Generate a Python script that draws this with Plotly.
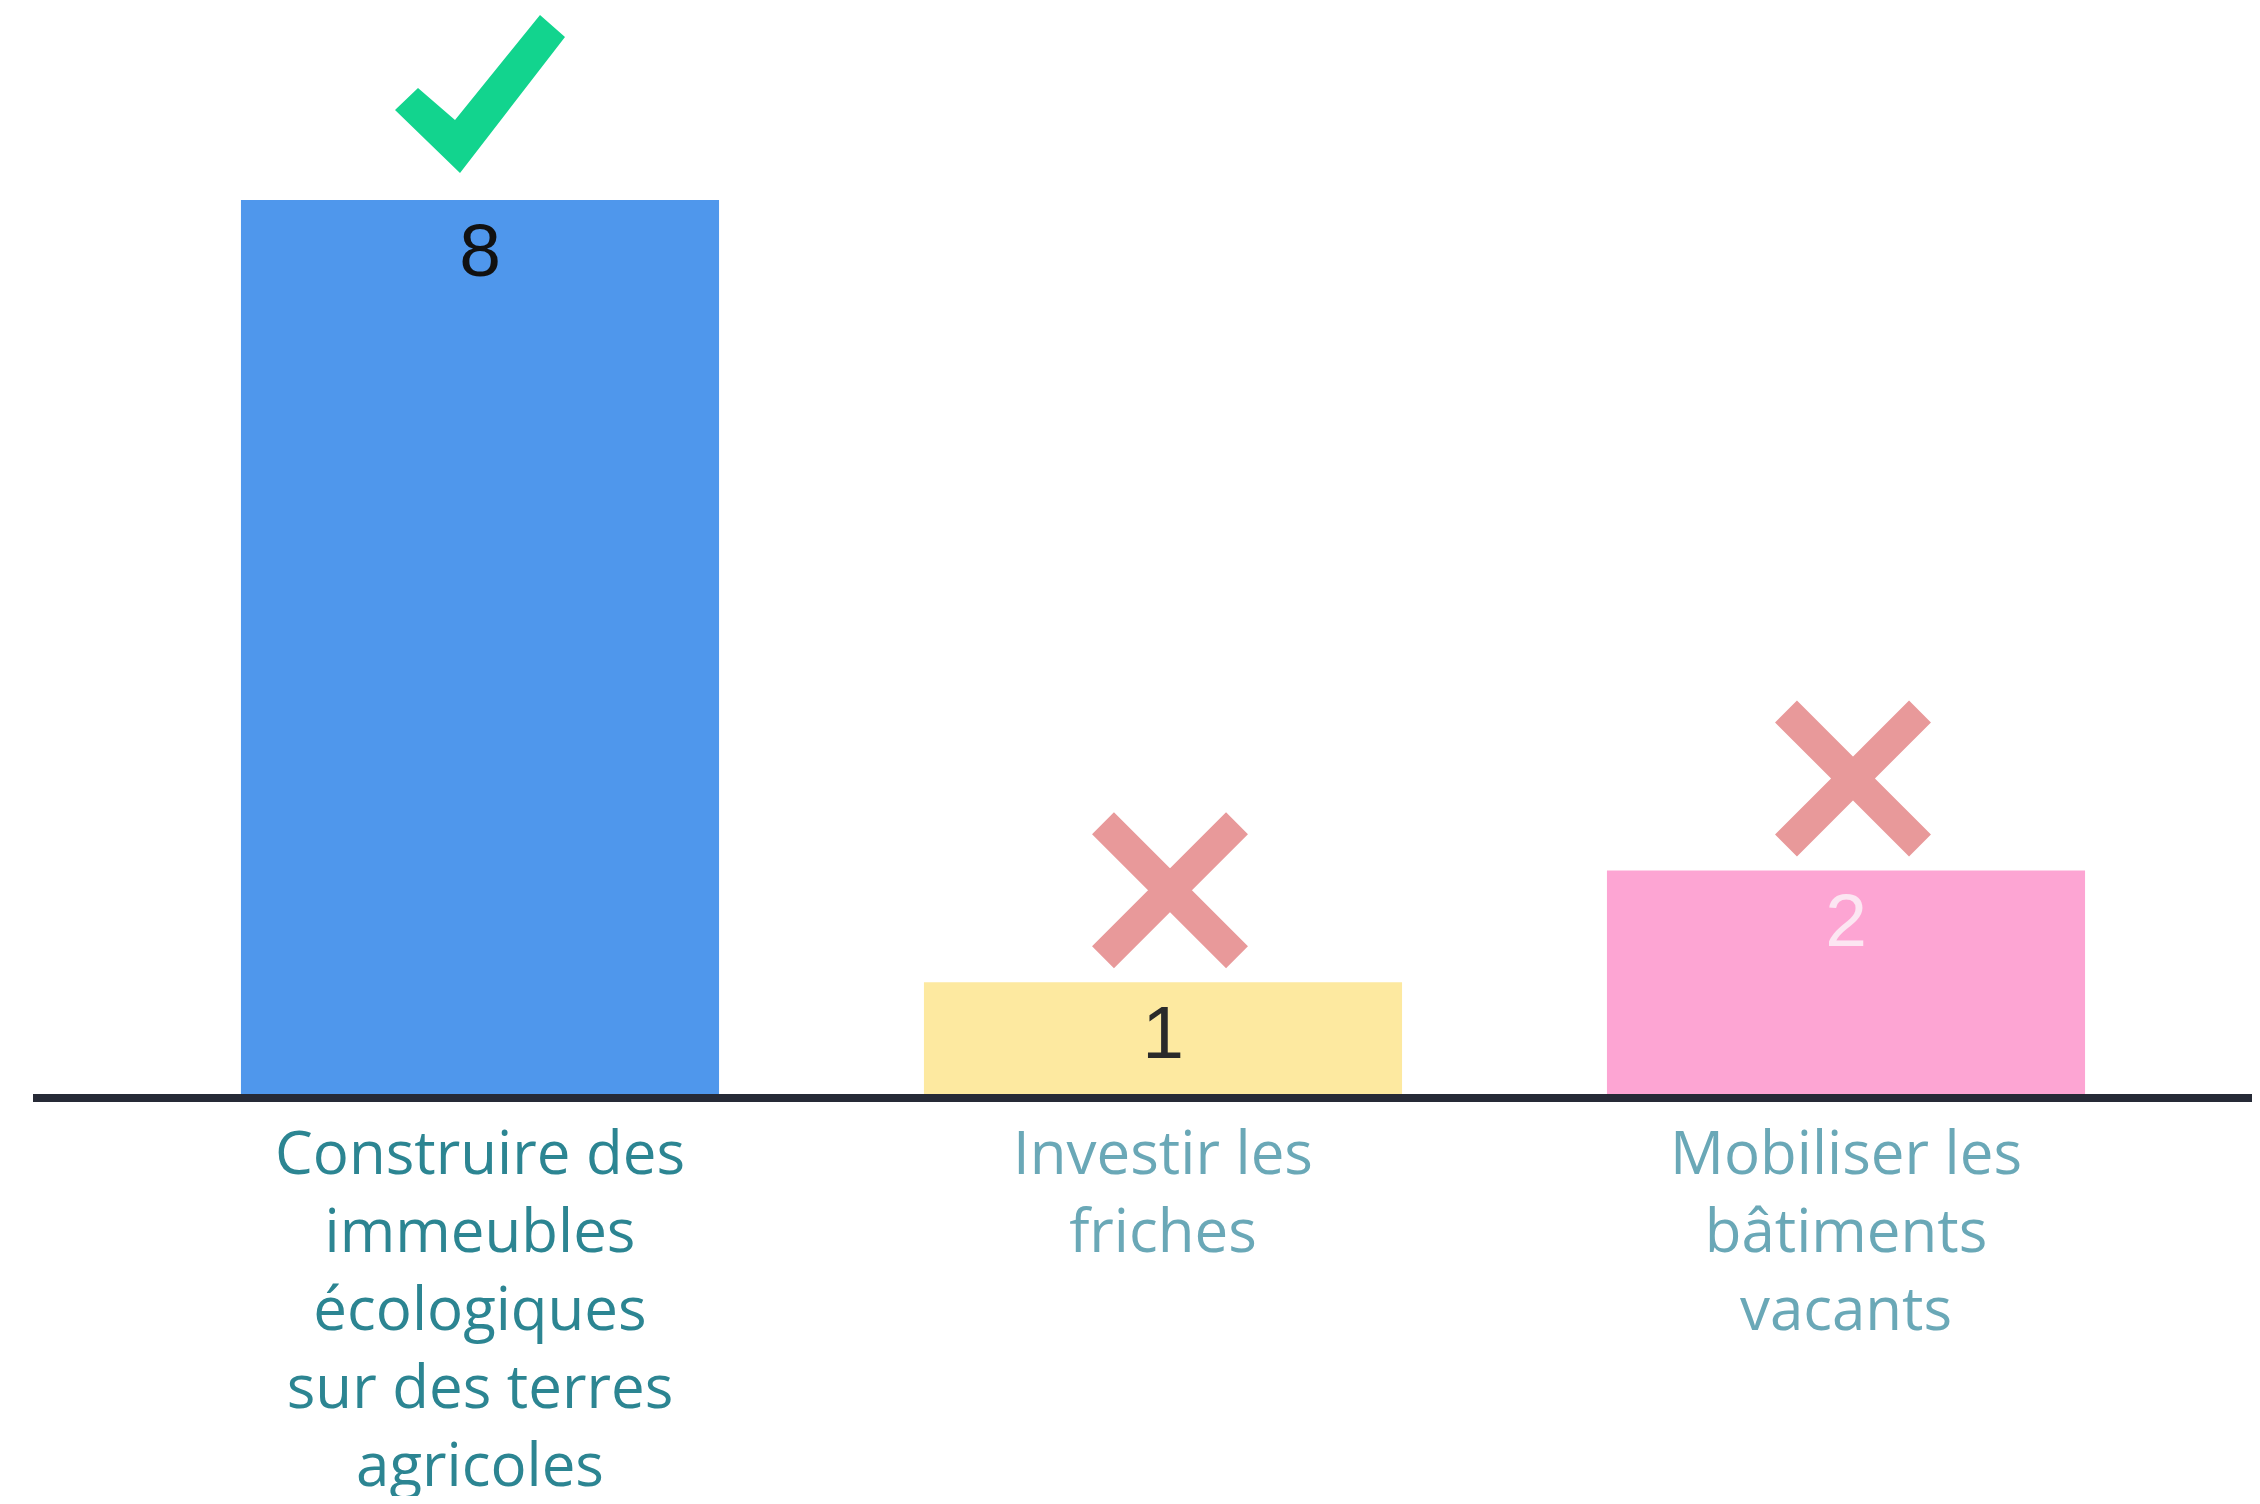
"""
Bar chart: trois options d'aménagement, nombre de voix.
"""

import plotly.graph_objects as go

# data
categories = [
    "Construire des<br>immeubles<br>écologiques<br>sur des terres<br>agricoles",
    "Investir les<br>friches",
    "Mobiliser les<br>bâtiments<br>vacants",
]
votes = [8, 1, 2]
winner = [True, False, False]

bar_colors = ["#4F97EC", "#FDE9A0", "#FDA5D3"]
value_colors = ["#111111", "#2a2a2a", "#FCE6F2"]
label_colors = ["#2C8592", "#6AA8B7", "#6AA8B7"]

# page offset: default body margin is 8px
W, H = 2244, 1488
UNIT = 111.75  # px per vote
PLOT_TOP, PLOT_BOTTOM = 0, 1086
PLOT_LEFT = 25
STEP = 683
FIRST_CENTER = 472

y_max = (PLOT_BOTTOM - PLOT_TOP) / UNIT
x_lo = -(FIRST_CENTER - PLOT_LEFT) / STEP
x_hi = x_lo + (W - PLOT_LEFT) / STEP

idx = list(range(len(categories)))

# check-mark icon outline, pixels relative to the bar top (y up)
CHECK_PATH = "M-62,112 L-25,80 L60,185 L85,163 L-20,27 L-85,90 Z"


def styled(label, color):
    return "<br>".join(f'<span style="color:{color}">{line}</span>' for line in label.split("<br>"))


fig = go.Figure()

fig.add_trace(go.Bar(
    x=idx,
    y=votes,
    marker=dict(color=bar_colors, line=dict(width=0)),
    hoverinfo="skip",
))

# value inside the top of each bar
fig.add_trace(go.Scatter(
    x=idx,
    y=[v - 57 / UNIT for v in votes],
    mode="text",
    text=[str(v) for v in votes],
    textposition="middle center",
    textfont=dict(family="Liberation Sans, Arial", size=75, color=value_colors),
    hoverinfo="skip",
))

# crosses above the losing options
lost = [i for i in idx if not winner[i]]
fig.add_trace(go.Scatter(
    x=[i + 7 / STEP for i in lost],
    y=[votes[i] + 92 / UNIT for i in lost],
    mode="markers",
    marker=dict(symbol="x-thin-open", size=134, color="#E8999A",
                line=dict(width=31, color="#E8999A")),
    hoverinfo="skip",
))

# check mark above the winner
for i in idx:
    if winner[i]:
        fig.add_shape(
            type="path",
            xref="x", yref="y",
            xsizemode="pixel", ysizemode="pixel",
            xanchor=i, yanchor=votes[i],
            path=CHECK_PATH,
            fillcolor="#12D48E",
            line=dict(width=0),
        )

fig.update_layout(
    width=W,
    height=H,
    margin=dict(l=PLOT_LEFT, r=0, t=PLOT_TOP, b=H - PLOT_BOTTOM),
    plot_bgcolor="white",
    paper_bgcolor="white",
    showlegend=False,
    bargap=0.3,
    xaxis=dict(
        range=[x_lo, x_hi],
        tickmode="array",
        tickvals=idx,
        ticktext=[styled(c, col) for c, col in zip(categories, label_colors)],
        tickfont=dict(family="Open Sans", size=60),
        showline=True,
        linecolor="#262A36",
        linewidth=8,
        showgrid=False,
        zeroline=False,
        ticks="",
        ticklabelstandoff=0,
        automargin=False,
    ),
    yaxis=dict(range=[0, y_max], visible=False, automargin=False),
)

fig.write_html("out.html")
